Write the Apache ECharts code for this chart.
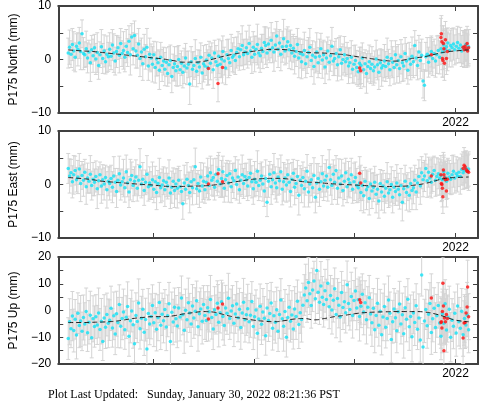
<!DOCTYPE html>
<html>
<head>
<meta charset="utf-8">
<script src="https://cdn.jsdelivr.net/npm/echarts@6/dist/echarts.min.js"></script>
<style>
html,body{margin:0;padding:0;background:#fff;}
#chart{width:481px;height:404px;}
</style>
</head>
<body>
<div id="chart"></div>
<script>
// ---- sampling of the daily solutions (decimal years) ----
const T_START = 2018.16;
const STEP_DAYS = 5;

// ---- tick labels ----
const yearTicks = [2019, 2020, 2021, 2022];
const yearLabels = [2022];
const panelNames = ['P175 North (mm)', 'P175 East (mm)', 'P175 Up (mm)'];

// ---- North (mm), final solutions ----
const north = [
1.2,2.3,1.0,2.8,1.6,0.4,2.5,1.9,3.1,1.5,
4.8,1.1,0.9,2.0,0.3,1.4,-0.6,1.8,0.7,2.2,
0.1,1.3,-1.1,0.9,2.4,0.2,1.6,-0.4,1.0,0.5,
1.9,0.6,2.7,1.2,-0.3,1.5,2.2,0.8,3.0,1.1,
1.7,0.4,2.5,1.3,3.4,0.9,4.2,2.0,4.5,1.6,
0.8,2.9,0.2,1.4,-0.8,1.9,0.5,2.3,-1.2,1.0,
0.3,-0.9,0.9,-1.5,0.1,-0.6,-2.0,0.4,-1.1,-0.3,
-1.8,-0.5,-2.6,-1.0,-0.2,-3.2,-1.5,-0.8,-2.1,-1.3,
0.0,-1.9,-0.7,-2.4,-1.2,0.3,-1.6,-0.9,-4.6,-0.4,
-1.8,-1.1,0.2,-2.2,-0.6,-1.4,0.4,-2.5,-0.8,-1.2,
-0.1,-1.5,0.8,-0.7,0.3,-1.9,1.2,-0.4,-1.1,0.6,
-0.9,0.1,1.5,-0.3,-1.6,0.9,0.2,-0.6,1.7,0.4,
0.8,-0.2,1.3,2.0,0.5,1.8,2.6,0.9,1.4,2.2,
1.1,3.0,1.6,0.4,2.3,1.0,1.9,2.8,1.2,0.7,
2.1,1.5,3.2,2.6,1.2,2.9,1.8,3.6,2.2,1.4,
2.7,4.4,1.9,3.1,1.0,2.4,3.9,1.6,2.5,3.3,
1.8,2.6,1.2,2.1,0.6,1.5,2.8,0.3,1.1,-0.4,
0.9,1.7,-0.8,0.5,1.3,2.3,-0.2,0.8,-1.3,0.4,
1.4,-0.6,0.6,2.0,-0.1,0.9,-1.4,0.3,1.6,-0.5,
0.7,2.5,-0.3,0.2,1.1,-1.0,0.5,1.8,-0.7,0.0,
0.9,-0.4,0.2,-1.2,-0.6,0.4,-1.8,-0.9,-0.2,-1.5,
-2.3,-0.7,-1.1,0.3,-1.9,-0.8,-2.6,-1.3,-0.4,-1.7,
-0.9,-2.1,-1.4,0.1,-1.0,-2.4,-0.6,-1.6,-1.1,-0.3,
-1.3,0.4,-0.8,-1.9,0.2,-0.5,-1.5,0.9,-1.0,-0.2,
-1.7,0.5,-0.6,-1.2,1.1,-0.3,-2.0,0.1,-0.9,0.6,
-0.4,2.6,0.3,-1.1,1.4,-0.2,0.8,-4.0,-4.8,0.5,
1.0,-0.5,0.7,1.5,0.2,1.1,-0.3,0.9,1.7,0.4,
2.0,1.4,2.7,1.9,2.4,3.1,1.7,2.6,2.2,2.9,
1.8,2.5,3.2,2.1,2.7,1.6,2.3,2.0,2.8,1.9,2.4
];

// ---- East (mm) ----
const east = [
3.0,1.6,2.2,0.5,1.8,2.6,0.9,1.4,2.9,0.2,
1.7,0.8,2.3,-0.4,1.2,0.6,1.9,-0.2,1.0,0.4,
1.5,-0.8,0.7,1.8,-0.3,0.9,0.1,1.3,-1.0,0.6,
0.2,1.1,-0.5,1.6,0.4,-1.3,0.8,2.0,-0.1,0.5,
1.2,-0.6,2.4,0.3,-1.4,0.9,1.7,-0.2,0.6,1.4,
-0.7,0.8,3.3,0.1,1.0,-1.1,0.4,1.9,-0.4,0.3,
-0.2,0.9,-0.9,0.5,-1.5,0.2,1.3,-0.6,-0.1,0.7,
-1.0,0.4,-0.3,1.2,-1.6,-0.5,0.6,-1.1,0.1,-0.7,
0.8,-0.4,-1.3,-3.6,0.3,-0.9,1.0,-0.2,-1.5,0.5,
-0.6,0.9,3.3,-0.8,0.2,-1.2,1.4,-0.3,0.6,-1.0,
0.4,1.6,-0.2,2.2,0.8,1.3,-0.5,1.9,0.6,2.8,
0.1,1.1,2.4,-0.7,0.9,1.7,0.3,2.0,-0.4,1.2,
0.7,2.6,0.0,1.4,-1.0,0.8,1.8,0.2,1.5,0.9,
-0.3,1.3,2.1,0.5,-0.8,1.0,0.4,2.5,-0.2,0.8,
1.6,0.1,-1.2,1.1,-3.3,0.6,1.9,-0.4,0.9,2.2,
0.3,-0.6,1.4,0.7,2.4,-0.9,0.5,1.2,-0.1,1.8,
0.4,-1.3,1.0,2.1,-0.5,0.2,1.5,-2.0,0.8,-0.2,
1.3,-0.8,0.6,2.5,-1.4,0.1,0.9,-0.6,1.7,-2.4,
0.3,1.1,-0.9,0.5,2.0,-0.3,0.8,1.6,-0.5,3.2,
0.9,-0.2,1.9,0.4,2.6,-0.7,1.2,0.1,1.6,-1.1,
0.6,2.2,-0.4,1.0,0.3,1.8,-0.9,0.5,1.3,-0.2,
-0.6,0.3,-1.5,-0.2,-2.1,0.6,-1.0,-0.4,-2.6,0.1,
-1.2,-0.5,0.4,-1.8,-0.9,-3.1,0.2,-1.4,-0.3,-2.2,
-0.7,0.5,-1.6,-1.0,0.0,-2.4,-0.5,-1.3,0.3,-0.9,
-1.9,-0.2,-3.3,-0.8,0.6,-1.5,-0.4,-2.0,0.2,-1.1,
-0.6,0.8,-1.4,0.3,1.5,-0.3,2.2,0.9,1.6,3.0,
0.7,2.3,1.2,0.4,1.9,2.6,0.8,1.5,2.0,1.1,
1.7,0.9,2.4,1.3,0.6,2.1,1.4,1.0,1.8,2.5,
1.2,2.0,1.6,2.3,1.5,2.8,2.2,2.6,3.1,2.4,2.9
];

// ---- Up (mm) ----
const up = [
-10.5,-4.2,-6.8,-2.1,-7.5,-3.3,-9.2,-1.0,-5.6,-3.9,
-7.8,-2.6,-5.0,-0.4,-8.3,-4.4,-1.8,-10.2,-3.1,-6.0,
-2.3,-5.4,-0.9,-7.1,-4.0,-11.6,-2.8,-6.3,-1.5,-4.8,
-3.6,0.8,-6.5,-2.0,-8.8,-1.2,-4.5,2.2,-5.9,-3.0,
-0.6,-7.2,-2.5,1.5,-9.6,-3.8,-0.2,-5.3,-12.4,-1.9,
-4.1,2.8,-6.8,-2.9,0.5,-8.1,-3.4,-14.4,-1.1,-5.0,
-2.2,1.9,-4.6,-0.8,-7.0,-2.7,3.0,-5.5,-1.4,-3.8,
0.4,-6.2,-2.0,2.5,-11.6,-0.7,-4.3,1.2,-3.1,-5.8,
0.9,-2.4,4.7,-1.6,-7.4,0.1,-3.5,2.9,-0.9,-5.0,
1.7,-2.8,-0.3,3.6,-6.1,-1.2,0.6,-4.0,2.2,-1.9,
-3.7,1.0,-0.5,4.1,-2.6,-6.9,0.3,-1.5,2.7,-4.4,
-0.8,3.3,-2.2,-5.6,0.9,-1.0,4.6,-3.0,-0.2,1.8,
-4.8,-1.3,2.4,-2.7,0.5,-6.4,-0.9,3.1,-3.5,-1.6,
0.7,-4.2,-1.8,3.4,-6.0,-2.3,0.2,-8.5,-3.2,1.6,
-5.1,-0.6,-2.9,-9.4,0.9,-3.7,-1.1,2.8,-6.6,-2.0,
-4.4,0.3,-7.8,-1.5,3.9,-3.1,-5.9,-0.4,-10.0,-2.6,
1.2,-4.0,-1.7,-6.9,0.6,-2.2,3.5,-5.2,-0.8,-3.4,
2.0,5.8,8.4,3.6,10.5,6.3,1.9,7.7,11.0,4.4,
15.0,6.8,3.1,9.2,5.0,2.2,7.4,4.1,10.2,1.4,
5.6,0.2,3.8,8.1,-1.5,4.5,2.0,-2.4,6.7,1.1,
3.3,-0.8,9.6,2.6,0.4,5.2,-1.9,3.7,7.3,0.9,
4.0,-2.2,1.6,6.1,-0.6,2.9,-3.5,1.2,4.8,-1.3,
-4.6,0.8,-7.2,-1.9,2.7,-5.5,-0.3,-9.1,-2.4,1.5,
-6.3,-3.0,3.9,-1.0,-10.8,-4.2,0.6,-2.7,-7.6,-0.5,
2.4,-5.0,-1.6,-8.7,1.0,-3.3,4.2,-6.1,-2.2,-9.8,
-0.9,-4.5,1.8,-7.0,-2.8,-11.0,13.3,-13.6,-3.9,0.4,
-5.7,-1.4,2.6,-8.2,-3.1,0.8,-6.4,-2.0,1.9,-4.7,
-9.6,-1.2,-4.8,2.5,-7.3,-2.4,0.5,-10.0,-3.6,-5.9,
-1.0,-8.4,1.7,-4.2,-6.6,-0.3,-9.1,-3.0,-5.4,-1.8,-7.2
];

// ---- 1-sigma errors (mm): horizontal (N,E) and vertical ----
const errH = [
2.8,3.2,2.5,3.0,3.6,2.7,2.3,3.1,2.9,3.4,
2.6,3.0,2.4,3.3,2.8,2.2,3.5,2.7,3.1,2.5,
2.9,3.7,2.6,2.4,3.2,2.8,3.0,2.3,3.4,2.7,
3.1,2.5,2.9,3.6,2.6,3.0,2.2,3.3,2.8,2.4,
3.5,2.7,3.1,2.6,2.9,3.8,2.5,3.0,2.7,3.2,
2.4,2.9,3.4,2.6,3.1,2.8,2.3,3.5,2.7,3.0,
2.6,3.3,2.5,2.9,3.2,2.4,3.6,2.8,3.0,2.6,
3.1,2.7,2.4,3.4,2.9,3.0,2.5,3.2,2.8,3.7,
2.6,3.0,2.3,2.9,3.3,2.7,3.1,2.5,3.8,2.8,
3.2,2.6,3.5,2.9,2.4,3.1,2.7,3.0,3.4,2.5,
2.9,3.3,2.6,3.1,2.8,3.5,2.4,3.0,2.7,3.2,
2.5,3.4,2.9,2.6,3.1,2.8,3.6,2.4,3.0,2.7,
3.3,2.6,2.9,3.2,2.5,3.0,3.7,2.8,2.4,3.1,
2.7,3.4,2.6,3.0,2.9,3.3,2.5,3.8,2.8,3.1,
2.6,3.2,2.9,3.5,2.7,3.0,2.4,3.3,2.8,3.6,
3.0,2.7,3.4,2.5,3.1,2.9,3.6,2.6,3.2,2.8,
3.5,2.9,3.1,2.6,3.3,2.8,3.0,3.7,2.7,3.2,
2.9,3.4,2.6,3.1,2.8,3.5,3.0,2.7,3.3,2.9,
3.6,2.8,3.2,2.9,3.4,2.7,3.1,3.0,2.6,3.3,
2.9,3.5,2.7,3.2,2.8,3.0,3.6,2.6,3.1,2.9,
3.4,2.7,3.0,3.3,2.8,3.1,2.6,3.5,2.9,3.2,
2.7,3.0,3.4,2.8,3.2,2.6,3.7,2.9,3.1,2.8,
3.3,2.7,3.0,3.5,2.8,3.2,2.6,3.4,2.9,3.1,
2.8,3.6,2.7,3.0,3.3,2.9,3.1,2.6,3.4,3.0,
2.7,3.2,3.5,2.8,3.0,3.3,2.6,3.1,2.9,3.6,
3.0,2.8,3.3,2.7,3.1,3.4,3.0,3.2,2.9,2.7,
3.1,2.8,3.4,2.9,3.2,2.7,3.0,3.5,2.8,3.1,
2.9,3.3,2.7,3.0,3.4,2.8,3.1,2.9,3.6,3.0,
2.8,3.2,3.0,2.7,3.3,2.9,3.1,3.4,2.8,3.0,3.2
];
const errU = [
7.8,8.6,7.1,9.2,8.0,7.4,8.9,7.6,8.3,9.5,
7.2,8.4,7.9,8.8,7.0,8.1,9.0,7.5,8.6,7.7,
8.2,7.3,9.3,7.8,8.5,7.1,8.7,7.9,8.0,9.1,
7.6,8.3,7.2,8.9,7.7,8.4,9.4,7.4,8.1,7.9,
8.6,7.3,8.0,9.2,7.5,8.3,7.8,8.8,7.1,8.5,
7.9,9.0,7.6,8.2,7.4,8.7,8.0,7.3,9.3,7.8,
8.4,7.7,8.9,7.2,8.1,8.6,7.5,9.1,7.9,8.3,
7.4,8.8,7.8,8.0,9.4,7.6,8.5,7.2,8.7,8.1,
7.7,9.0,8.2,7.5,8.6,7.9,8.3,9.2,7.3,8.4,
8.0,7.6,8.8,7.4,9.1,8.2,7.8,8.5,7.1,8.9,
7.9,8.3,7.5,9.0,8.1,7.7,8.6,7.3,8.4,9.2,
7.6,8.0,8.8,7.4,8.5,7.9,9.3,7.8,8.2,7.5,
8.7,7.2,8.4,9.0,7.8,8.1,7.6,8.9,8.3,7.7,
9.1,7.9,8.2,7.4,8.6,8.0,7.5,9.4,7.8,8.3,
7.6,8.8,8.1,7.3,9.2,7.9,8.5,7.7,8.2,9.0,
7.8,8.4,7.5,8.9,8.0,7.6,9.3,8.2,7.4,8.7,
8.1,7.8,9.1,7.5,8.3,8.6,7.9,9.0,7.7,8.4,
8.2,7.6,8.9,8.0,9.4,7.8,8.5,8.1,7.4,9.2,
8.6,7.9,8.3,9.1,7.7,8.4,8.0,7.6,8.8,8.2,
7.5,9.0,8.1,7.8,8.7,7.4,8.5,9.3,7.9,8.2,
8.0,7.6,8.9,8.3,7.7,9.1,8.4,7.5,8.6,8.1,
7.8,9.2,8.0,7.6,8.5,8.2,9.0,7.7,8.3,7.9,
8.8,7.4,8.6,8.1,9.3,7.8,8.2,7.5,8.9,8.4,
7.7,8.3,9.0,7.9,8.6,8.0,7.6,9.2,8.2,7.8,
8.5,7.5,8.1,9.1,7.9,8.4,7.7,8.8,8.0,9.4,
7.8,8.6,8.2,7.6,9.0,8.3,7.9,8.7,8.1,7.5,
8.4,9.1,7.8,8.2,8.6,7.7,9.3,8.0,8.5,7.9,
8.8,8.1,7.6,9.0,8.3,7.8,8.6,9.2,8.0,8.4,
7.9,8.7,8.2,9.1,7.7,8.5,8.0,8.9,8.3,7.8,8.6
];

// ---- rapid solutions (red) ----
const redT = [2019.55,2019.645,2019.69,2021.05,2021.06,2021.76,2021.855,2021.86,2021.865,2021.87,2021.875,2021.88,2021.885,2021.89,2021.90,2021.91,2021.92,2022.075,2022.085,2022.095,2022.105,2022.115,2022.12,2022.13];
const redN = [-1.7,-4.5,-1.5,-1.6,-2.1,0.9,4.1,4.8,3.3,0.2,-0.2,3.0,2.0,-0.7,3.7,0.2,1.5,2.3,1.8,2.5,2.0,3.0,1.6,2.2];
const redE = [0.1,2.0,0.5,2.1,0.3,1.6,1.8,0.2,0.0,-0.7,-2.3,2.7,1.8,1.2,0.9,-1.2,1.0,3.0,3.6,3.3,2.8,2.5,2.5,2.3];
const redU = [-3.2,0.9,2.4,4.0,3.0,4.7,-4.5,-4.2,-6.5,-0.4,10.2,1.7,-15.0,-2.8,-4.2,-1.5,-3.0,-10.3,-4.7,-4.5,-0.9,1.3,8.8,-2.3];
const redErrH = [3.0,3.4,2.9,3.1,3.3,3.2,3.6,3.4,3.0,3.5,3.1,3.3,3.7,3.2,3.4,3.0,3.6,3.1,3.3,2.9,3.5,3.2,3.0,3.4];
const redErrU = [8.2,8.8,7.9,8.5,8.1,9.0,9.6,8.7,9.3,8.4,9.8,8.9,10.2,9.1,8.6,9.4,8.8,9.5,8.3,9.7,8.9,9.2,10.0,8.6];

// ---- model (dashed) ----
const trendT = [2018.16,2018.3,2018.4,2018.5,2018.6,2018.7,2018.8,2018.9,2019.0,2019.1,2019.2,2019.3,2019.4,2019.5,2019.6,2019.7,2019.8,2019.9,2020.0,2020.1,2020.2,2020.3,2020.4,2020.5,2020.6,2020.7,2020.8,2020.9,2021.0,2021.1,2021.2,2021.3,2021.4,2021.5,2021.6,2021.7,2021.8,2021.9,2022.0,2022.13];
const trendN = [1.8,1.6,1.5,1.3,1.1,0.9,0.7,0.5,0.3,0.1,-0.2,-0.5,-0.5,-0.35,0.1,0.6,1.0,1.3,1.55,1.8,1.9,1.85,1.6,1.35,1.25,1.2,1.05,0.9,0.6,0.35,0.05,-0.2,-0.3,-0.05,0.3,0.55,1.0,1.4,1.6,1.8];
const trendE = [1.3,1.1,0.9,0.6,0.45,0.3,0.15,0.0,-0.1,-0.3,-0.4,-0.35,-0.3,-0.25,-0.1,0.15,0.45,0.75,1.0,1.1,1.15,1.1,0.8,0.5,0.4,0.25,0.1,0.0,-0.1,-0.2,-0.3,-0.4,-0.35,-0.3,-0.1,0.2,0.7,1.15,1.3,1.4];
const trendU = [-4.5,-4.5,-4.4,-4.3,-4.1,-3.6,-3.0,-2.6,-2.3,-2.3,-2.0,-1.3,-0.8,-0.4,-0.6,-1.5,-2.4,-3.0,-3.6,-4.0,-4.2,-3.8,-3.2,-3.0,-3.5,-3.0,-2.3,-1.8,-1.2,-0.8,-0.6,-0.5,-0.4,-0.4,-0.4,-0.6,-1.3,-2.4,-3.6,-4.2];

// ---------------- build chart ----------------
const XMIN = 2018.061, XMAX = 2022.223;
const FONT = 'Liberation Sans, Arial, sans-serif';
const FRAME = '#404040';
const tOf = i => T_START + i * STEP_DAYS / 365.25;

const panels = [
  {vals: north, err: errH, red: redN, redErr: redErrH, trend: trendN, min: -10, max: 10, top: 5, h: 108},
  {vals: east,  err: errH, red: redE, redErr: redErrH, trend: trendE, min: -10, max: 10, top: 131, h: 107},
  {vals: up,    err: errU, red: redU, redErr: redErrU, trend: trendU, min: -20, max: 20, top: 257, h: 107}
];

function renderErr(params, api) {
  const x = api.value(0), y = api.value(1), e = api.value(2);
  const a = api.coord([x, y + e]);
  const b = api.coord([x, y - e]);
  const w = 2;
  const st = {stroke: '#d4d4d4', lineWidth: 1};
  return {type: 'group', children: [
    {type: 'line', shape: {x1: a[0], y1: a[1], x2: b[0], y2: b[1]}, style: st},
    {type: 'line', shape: {x1: a[0] - w, y1: a[1], x2: a[0] + w, y2: a[1]}, style: st},
    {type: 'line', shape: {x1: b[0] - w, y1: b[1], x2: b[0] + w, y2: b[1]}, style: st}
  ]};
}

const grids = [], xAxes = [], yAxes = [], series = [];
const lineStyle = {color: FRAME, width: 2};
const tickStyle = {color: FRAME, width: 1};
const minus = v => v < 0 ? '\u2212' + (-v) : String(v);

panels.forEach((p, g) => {
  grids.push({left: 48, top: p.top, width: 430, height: p.h, containLabel: false});
  xAxes.push({
    gridIndex: g, type: 'value', min: XMIN, max: XMAX, position: 'bottom',
    axisLine: {show: true, onZero: false, lineStyle},
    axisTick: {show: true, inside: true, length: 5, customValues: yearTicks, lineStyle: tickStyle},
    axisLabel: {show: true, customValues: yearLabels, margin: 4, fontSize: 12, color: '#000', fontFamily: FONT,
      formatter: v => String(Math.round(v))},
    splitLine: {show: false}
  });
  xAxes.push({
    gridIndex: g, type: 'value', min: XMIN, max: XMAX, position: 'top',
    axisLine: {show: true, onZero: false, lineStyle},
    axisTick: {show: true, inside: true, length: 5, customValues: yearTicks, lineStyle: tickStyle},
    axisLabel: {show: false},
    splitLine: {show: false}
  });
  yAxes.push({
    gridIndex: g, type: 'value', min: p.min, max: p.max, interval: 5, position: 'left',
    name: panelNames[g], nameLocation: 'middle', nameGap: 38,
    nameTextStyle: {fontSize: 12, color: '#000', fontFamily: FONT},
    axisLine: {show: true, onZero: false, lineStyle},
    axisTick: {show: true, inside: true, length: 5, lineStyle: tickStyle},
    axisLabel: {margin: 7, fontSize: 12, color: '#000', fontFamily: FONT,
      formatter: v => (v % 10 === 0 ? minus(v) : '')},
    splitLine: {show: false}
  });
  yAxes.push({
    gridIndex: g, type: 'value', min: p.min, max: p.max, interval: 5, position: 'right',
    axisLine: {show: true, onZero: false, lineStyle},
    axisTick: {show: true, inside: true, length: 5, lineStyle: tickStyle},
    axisLabel: {show: false},
    splitLine: {show: false}
  });
  const xi = 2 * g, yi = 2 * g;
  const n = Math.min(p.vals.length, p.err.length);
  const cyanData = [], cyanErr = [];
  for (let i = 0; i < n; i++) {
    if (p.vals[i] == null) continue;
    cyanData.push([tOf(i), p.vals[i]]);
    cyanErr.push([tOf(i), p.vals[i], p.err[i]]);
  }
  const redData = redT.map((t, k) => [t, p.red[k]]);
  const redErrData = redT.map((t, k) => [t, p.red[k], p.redErr[k]]);
  series.push({type: 'custom', xAxisIndex: xi, yAxisIndex: yi, renderItem: renderErr, clip: true,
    encode: {x: 0, y: 1}, data: cyanErr, z: 1, silent: true});
  series.push({type: 'custom', xAxisIndex: xi, yAxisIndex: yi, renderItem: renderErr, clip: true,
    encode: {x: 0, y: 1}, data: redErrData, z: 1, silent: true});
  series.push({type: 'scatter', xAxisIndex: xi, yAxisIndex: yi, data: cyanData, symbol: 'circle',
    symbolSize: 3.5, itemStyle: {color: '#12e2f6'}, z: 3, silent: true, clip: true});
  series.push({type: 'scatter', xAxisIndex: xi, yAxisIndex: yi, data: redData, symbol: 'circle',
    symbolSize: 3.5, itemStyle: {color: '#ff1010'}, z: 4, silent: true, clip: true});
  series.push({type: 'line', xAxisIndex: xi, yAxisIndex: yi, data: trendT.map((t, k) => [t, p.trend[k]]),
    showSymbol: false, symbol: 'none', smooth: true,
    lineStyle: {color: '#222', width: 1, type: [5, 3]}, z: 5, silent: true});
});

const chart = echarts.init(document.getElementById('chart'), null, {renderer: 'canvas'});
chart.setOption({
  animation: false,
  backgroundColor: '#fff',
  grid: grids,
  xAxis: xAxes,
  yAxis: yAxes,
  series: series,
  graphic: [{
    type: 'text', left: 48, top: 389,
    style: {text: 'Plot Last Updated:   Sunday, January 30, 2022 08:21:36 PST',
      font: '12px "Liberation Serif", "Times New Roman", serif', fill: '#000'}
  }]
});
</script>
</body>
</html>
